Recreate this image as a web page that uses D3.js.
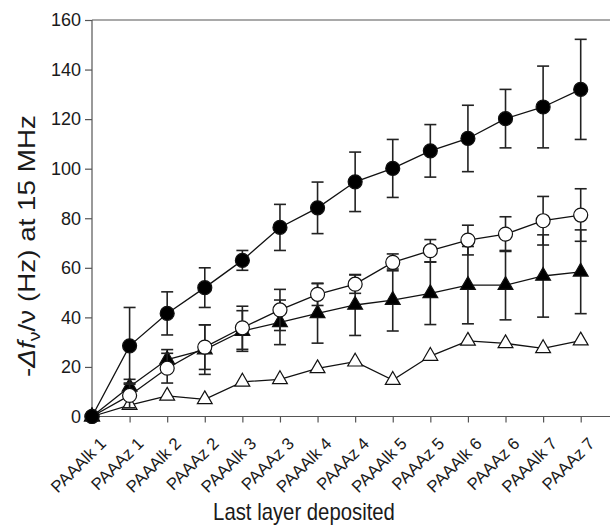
<!DOCTYPE html>
<html>
<head>
<meta charset="utf-8">
<script src="https://cdn.jsdelivr.net/npm/d3@7"></script>
<style>
  body { margin: 0; background: #fff; }
  svg { display: block; }
  text { font-family: "Liberation Sans", Arial, sans-serif; }
</style>
</head>
<body>
<script>
// Layers, in the order they were deposited
var layers = ["PAAAlk 1", "PAAAz 1", "PAAAlk 2", "PAAAz 2", "PAAAlk 3", "PAAAz 3", "PAAAlk 4",
  "PAAAz 4", "PAAAlk 5", "PAAAz 5", "PAAAlk 6", "PAAAz 6", "PAAAlk 7", "PAAAz 7"];

// filled circles
var filledCircle = [0, 28.5, 41.6, 52, 63, 76.3, 84.2, 94.7, 100.1, 107.2, 112.2, 120.2, 124.9, 132];
var filledCircleErr = [0, 15.5, 8.7, 8, 4, 9.3, 10.4, 12, 11.7, 10.6, 13.4, 11.8, 16.5, 20.2];

// open circles
var openCircle = [0, 8.5, 19.5, 28, 35.8, 43, 49.3, 53.4, 62.2, 66.9, 71.2, 73.6, 79, 81.3];
var openCircleErr = [0, 5, 6, 9, 8.7, 8.3, 4.5, 3.7, 3.4, 4.5, 6, 7, 9.8, 10.6];

// filled triangles
var filledTriangle = [0, 12, 23, 27, 34.5, 38, 41.6, 45, 47, 49.7, 53, 53, 56.7, 58.4];
var filledTriangleErr = [0, 3, 4, 10, 8.2, 9, 12, 12.3, 12.5, 12.6, 15.6, 14, 16.6, 16.9];

// open triangles (no error bars)
var openTriangle = [0, 4.6, 8.3, 6.9, 14, 15, 19.4, 22.1, 14.7, 24.4, 30.5, 29.5, 27.5, 30.6];

var yTicks = [0, 20, 40, 60, 80, 100, 120, 140, 160];

var svgWidth = 610;
var svgHeight = 526;
var fontFamily = "Liberation Sans, Arial, sans-serif";

var svg = d3.select("body")
  .append("svg")
  .attr("width", svgWidth)
  .attr("height", svgHeight);

// scales: index along x, value along y
var xScale = d3.scaleLinear()
  .domain([0, layers.length - 1])
  .range([92, 580.7]);

var yScale = d3.scaleLinear()
  .domain([0, 160])
  .range([416.5, 20]);

var axisColor = "#555";
var textColor = "#1a1a1a";

// top frame line (picture is cut on the right)
svg.append("line")
  .attr("x1", xScale(0)).attr("x2", svgWidth)
  .attr("y1", yScale(160)).attr("y2", yScale(160))
  .attr("stroke", axisColor).attr("stroke-width", 1.2);

// left axis
var leftAxis = d3.axisLeft(yScale)
  .tickValues(yTicks)
  .tickSize(7)
  .tickPadding(4);

var yAxisG = svg.append("g")
  .attr("transform", `translate(${xScale(0)}, 0)`)
  .call(leftAxis)
  .attr("font-family", fontFamily)
  .attr("font-size", 18.5);

yAxisG.select(".domain").remove();
yAxisG.append("line")
  .attr("x1", 0).attr("x2", 0)
  .attr("y1", yScale(0)).attr("y2", yScale(160))
  .attr("stroke", axisColor).attr("stroke-width", 1.2);
yAxisG.selectAll(".tick line").attr("stroke", axisColor).attr("stroke-width", 1.2);
yAxisG.selectAll(".tick text").attr("fill", textColor);

// size the tick labels so "160" is as wide as in the picture (about 30px)
var w160 = yAxisG.selectAll(".tick text").filter(d => d === 160).node().getComputedTextLength();
yAxisG.attr("font-size", 18.5 * 30 / w160);

// bottom axis
var bottomAxis = d3.axisBottom(xScale)
  .tickValues(d3.range(layers.length))
  .tickSize(6)
  .tickFormat((d, i) => layers[i]);

var xAxisG = svg.append("g")
  .attr("transform", `translate(0, ${yScale(0)})`)
  .call(bottomAxis)
  .attr("font-family", fontFamily)
  .attr("font-size", 17);

xAxisG.select(".domain").remove();
xAxisG.append("line")
  .attr("x1", xScale(0)).attr("x2", svgWidth)
  .attr("y1", 0).attr("y2", 0)
  .attr("stroke", axisColor).attr("stroke-width", 1.2);
xAxisG.selectAll(".tick line").attr("stroke", axisColor).attr("stroke-width", 1.2);
xAxisG.selectAll(".tick text")
  .attr("fill", textColor)
  .attr("text-anchor", "end")
  .attr("dy", "0.35em")
  .attr("transform", "translate(4, 17.5) rotate(-45)");

// "PAAAz 2" runs about 66px along its slant in the picture
var wLabel = xAxisG.selectAll(".tick text").filter(d => d === 3).node().getComputedTextLength();
xAxisG.attr("font-size", 17 * 66 / wLabel);

// axis titles, stretched to the length they have in the picture
var xTitle = svg.append("text")
  .attr("text-anchor", "middle")
  .attr("font-size", 23)
  .attr("fill", textColor)
  .text("Last layer deposited");
var kx = 182 / xTitle.node().getComputedTextLength();
xTitle.attr("transform", `translate(304, 520) scale(${kx}, 1)`);

var yTitle = svg.append("text")
  .attr("text-anchor", "middle")
  .attr("font-size", 24)
  .attr("fill", textColor);
yTitle.append("tspan").text("-");
yTitle.append("tspan").attr("font-style", "italic").text("Δf");
yTitle.append("tspan").attr("font-size", 17).attr("dy", 5).text("ν");
yTitle.append("tspan").attr("dy", -5).text("/ν (Hz) at 15 MHz");
var ky = 262 / yTitle.node().getComputedTextLength();
yTitle.attr("transform", `translate(35, 246) rotate(-90) scale(${ky}, 1)`);

// one group per series, drawn back to front
var series = [
  { values: openTriangle, err: null, shape: "triangle", fill: "#fff" },
  { values: filledTriangle, err: filledTriangleErr, shape: "triangle", fill: "#000" },
  { values: openCircle, err: openCircleErr, shape: "circle", fill: "#fff" },
  { values: filledCircle, err: filledCircleErr, shape: "circle", fill: "#000" }
];

var line = d3.line()
  .x((d, i) => xScale(i))
  .y(d => yScale(d));

var triangle = d3.symbol().type(d3.symbolTriangle).size(95);

series.forEach(function(s) {
  var g = svg.append("g");

  // error bars
  if (s.err) {
    var bars = g.selectAll(".err")
      .data(s.values.map((v, i) => ({ i: i, v: v, e: s.err[i] })).filter(d => d.e > 0))
      .enter()
      .append("g")
      .attr("stroke", "#222")
      .attr("stroke-width", 1.6);

    bars.append("line")
      .attr("x1", d => xScale(d.i)).attr("x2", d => xScale(d.i))
      .attr("y1", d => yScale(d.v + d.e)).attr("y2", d => yScale(d.v - d.e));
    bars.append("line")
      .attr("x1", d => xScale(d.i) - 6).attr("x2", d => xScale(d.i) + 6)
      .attr("y1", d => yScale(d.v + d.e)).attr("y2", d => yScale(d.v + d.e));
    bars.append("line")
      .attr("x1", d => xScale(d.i) - 6).attr("x2", d => xScale(d.i) + 6)
      .attr("y1", d => yScale(d.v - d.e)).attr("y2", d => yScale(d.v - d.e));
  }

  // connecting line
  g.append("path")
    .datum(s.values)
    .attr("d", line)
    .attr("fill", "none")
    .attr("stroke", "#111")
    .attr("stroke-width", 1.3);

  // markers
  if (s.shape === "circle") {
    g.selectAll(".pt")
      .data(s.values)
      .enter()
      .append("circle")
      .attr("cx", (d, i) => xScale(i))
      .attr("cy", d => yScale(d))
      .attr("r", 7)
      .attr("fill", s.fill)
      .attr("stroke", "#111")
      .attr("stroke-width", 1.2);
  } else {
    g.selectAll(".pt")
      .data(s.values)
      .enter()
      .append("path")
      .attr("d", triangle)
      .attr("transform", (d, i) => `translate(${xScale(i)}, ${yScale(d)})`)
      .attr("fill", s.fill)
      .attr("stroke", "#111")
      .attr("stroke-width", 1.2);
  }
});
</script>
</body>
</html>
